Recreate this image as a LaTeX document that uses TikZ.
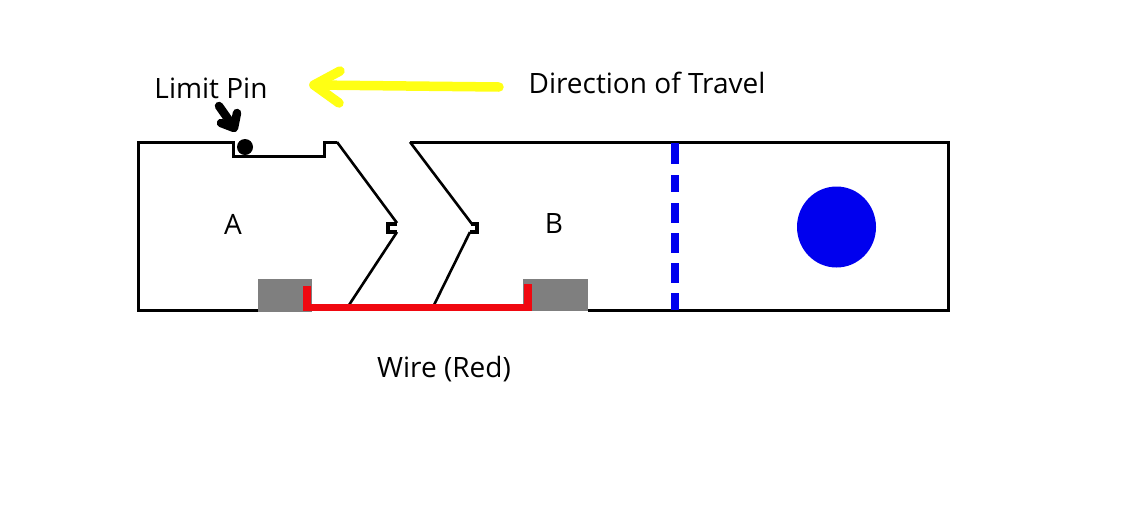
\documentclass[tikz,border=0pt]{standalone}
\usepackage{fontspec}
\setmainfont{Open Sans}
\definecolor{wirered}{RGB}{240,8,16}
\definecolor{padgray}{RGB}{127,127,127}
\definecolor{markblue}{RGB}{0,0,238}
\definecolor{traveltint}{RGB}{255,255,20}
\tikzset{
  label/.style={font=\fontsize{28}{32}\selectfont, text=black, inner sep=0pt},
  outline/.style={draw=black, line width=3pt, line join=miter},
  thinedge/.style={draw=black, line width=2.6pt, line join=miter},
  hook/.style={draw=black, line width=3.6pt, line join=miter},
  pad/.style={fill=padgray, draw=none},
  wire/.style={draw=wirered, line width=7.5pt, line join=miter},
  divider/.style={draw=markblue, line width=8pt,
    dash pattern=on 21pt off 11pt on 17pt off 11pt on 20pt off 10pt on 20pt off 10pt on 20pt off 10pt on 17pt off 20pt},
  travel/.style={draw=traveltint, line width=9.5pt, line cap=round, line join=round},
  pointer/.style={draw=black, line width=8.5pt, line cap=round, line join=round}
}
\begin{document}
\begin{tikzpicture}[x=1pt,y=-1pt]
\useasboundingbox (0,0) rectangle (1123,504);
\fill[white] (0,0) rectangle (1123,504);

% body A, with its notch and slanted end
\draw[outline] (258,310) -- (138,310) -- (138,142) -- (233,142) -- (233,156)
  -- (324,156) -- (324,142) -- (337,142);
\draw[thinedge] (337,142) -- (397,223);
\draw[hook] (397,224) -- (388,224) -- (388,232) -- (397,232);
\draw[thinedge] (397,232) -- (349,305);

% body B and the tail
\draw[outline] (410,142) -- (948,142) -- (948,310) -- (588,310);
\draw[thinedge] (410,142) -- (472,224);
\draw[hook] (471,224) -- (477,224) -- (477,232) -- (470,232);
\draw[thinedge] (470,232) -- (434,305);

% contact pads
\fill[pad] (258,279) rectangle (312,312);
\fill[pad] (523,279) rectangle (588,311);

% connecting wire
\draw[wire] (307,286) -- (307,307.5) -- (528,307.5) -- (528,284);

% divider and round mark
\draw[divider] (675,143) -- (675,310);
\fill[markblue] (836.5,227) ellipse [x radius=39.5, y radius=40.5];

% limit pin with its pointer
\fill[black] (245,147) circle (8);
\draw[pointer] (219,106) -- (233,126);
\draw[pointer] (221,123) -- (234,128) -- (237,113);

% direction arrow
\draw[travel] (499,87) -- (314,85);
\draw[travel] (340,71) -- (314,85) -- (339,103);

% labels
\node[label] (pinlabel) at (211,88) {Limit Pin};
\node[label] (travellabel) at (647,83) {Direction of Travel};
\node[label] (alabel) at (233,224) {A};
\node[label] (blabel) at (554,223) {B};
\node[label] (wirelabel) at (444,369) {Wire (Red)};
\end{tikzpicture}
\end{document}
